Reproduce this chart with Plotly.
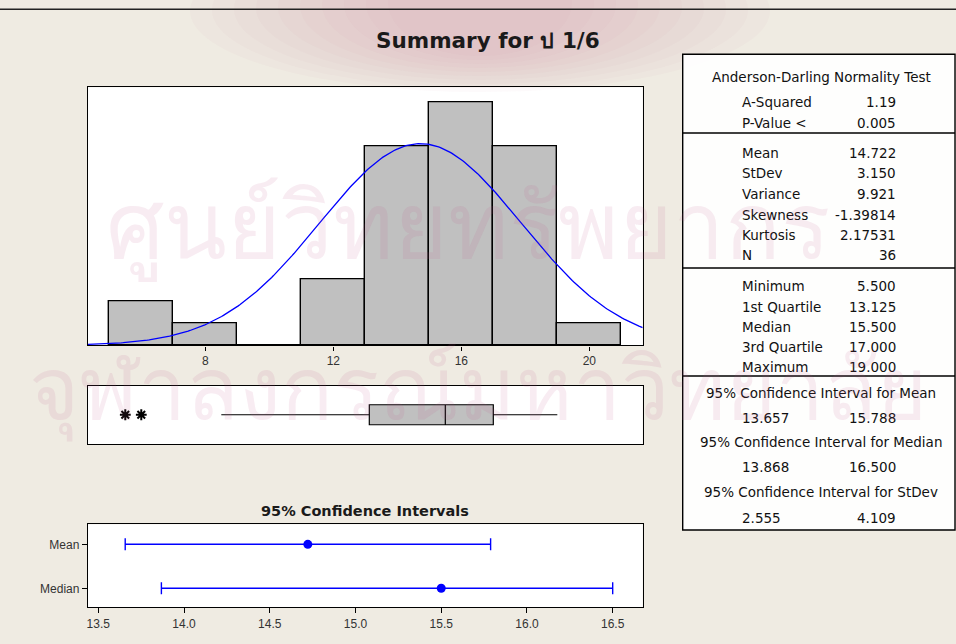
import numpy as np
import plotly.graph_objects as go

W, H = 956, 644

# ---- data -------------------------------------------------------------
bin_edges = [5, 7, 9, 11, 13, 15, 17, 19, 21]
bin_counts = [2, 1, 0, 3, 9, 11, 9, 1]

stat_mean = 14.722
stat_stdev = 3.150
stat_n = 36

box_q1, box_median, box_q3 = 13.125, 15.500, 17.000
whisker_low, whisker_high = 8.5, 19.0
outliers = [5.5, 6.0]

ci_labels = ["Mean", "Median"]
ci_center = [14.722, 15.500]
ci_low = [13.657, 13.868]
ci_high = [15.788, 16.500]

table_rows = [
    ("A-Squared", "1.19"),
    ("P-Value <", "0.005"),
    ("Mean", "14.722"),
    ("StDev", "3.150"),
    ("Variance", "9.921"),
    ("Skewness", "-1.39814"),
    ("Kurtosis", "2.17531"),
    ("N", "36"),
    ("Minimum", "5.500"),
    ("1st Quartile", "13.125"),
    ("Median", "15.500"),
    ("3rd Quartile", "17.000"),
    ("Maximum", "19.000"),
]
ci_table = [
    ("95% Confidence Interval for Mean", "13.657", "15.788"),
    ("95% Confidence Interval for Median", "13.868", "16.500"),
    ("95% Confidence Interval for StDev", "2.555", "4.109"),
]


def px(x):
    return x / W


def py(y):
    return 1 - y / H


BG = "#EFEBE2"
GREY = "#C0C0C0"
FONT = "Liberation Sans, Arial, sans-serif"
TFONT = "DejaVu Sans, Verdana, sans-serif"
BOLD = "DejaVu Sans, Verdana, sans-serif"

fig = go.Figure()

# histogram bars
centers = [(a + b) / 2 for a, b in zip(bin_edges[:-1], bin_edges[1:])]
widths = [b - a for a, b in zip(bin_edges[:-1], bin_edges[1:])]
fig.add_trace(go.Bar(
    x=centers, y=bin_counts, width=widths,
    marker=dict(color=GREY, line=dict(color="black", width=1.4)),
    xaxis="x", yaxis="y", showlegend=False, hoverinfo="skip",
))

# fitted normal curve scaled to counts
xs = np.linspace(4.335, 21.668, 300)
bw = bin_edges[1] - bin_edges[0]
ys = stat_n * bw / (stat_stdev * np.sqrt(2 * np.pi)) * np.exp(-0.5 * ((xs - stat_mean) / stat_stdev) ** 2)
fig.add_trace(go.Scatter(
    x=xs, y=ys, mode="lines", line=dict(color="#0000FF", width=1.3),
    xaxis="x", yaxis="y", showlegend=False, hoverinfo="skip",
))

# boxplot
fig.add_trace(go.Box(
    q1=[box_q1], median=[box_median], q3=[box_q3],
    lowerfence=[whisker_low], upperfence=[whisker_high],
    y=[0], orientation="h", width=0.684, whiskerwidth=0,
    fillcolor=GREY, line=dict(color="black", width=1.2),
    boxpoints=False, xaxis="x2", yaxis="y2", showlegend=False, hoverinfo="skip",
))
fig.add_trace(go.Scatter(
    x=outliers, y=[0] * len(outliers), mode="markers",
    marker=dict(symbol="asterisk-open", size=9, color="black",
                line=dict(color="black", width=2)),
    xaxis="x2", yaxis="y2", showlegend=False, hoverinfo="skip",
))

# confidence intervals
ci_y = [1, 0]
fig.add_trace(go.Scatter(
    x=ci_center, y=ci_y, mode="markers",
    marker=dict(color="#0000FF", size=9),
    error_x=dict(
        type="data", symmetric=False,
        array=[h - c for h, c in zip(ci_high, ci_center)],
        arrayminus=[c - l for c, l in zip(ci_center, ci_low)],
        color="#0000FF", thickness=1.4, width=6,
    ),
    xaxis="x3", yaxis="y3", showlegend=False, hoverinfo="skip",
))

frame = dict(showline=True, mirror=True, linecolor="black", linewidth=1.4,
             showgrid=False, zeroline=False)
xdom = [px(88), px(642.7)]
hist_range = [4.335, 21.668]

fig.update_layout(
    width=W, height=H,
    margin=dict(l=0, r=0, t=0, b=0),
    paper_bgcolor=BG, plot_bgcolor="white",
    bargap=0,
    xaxis=dict(domain=xdom, range=hist_range, tickvals=[8, 12, 16, 20],
               ticks="outside", ticklen=4, tickcolor="black",
               tickfont=dict(family=FONT, size=12, color="#333333"), **frame),
    yaxis=dict(domain=[py(345.3), py(87.3)], range=[0, 11.67],
               showticklabels=False, ticks="", **frame),
    xaxis2=dict(domain=xdom, range=hist_range, showticklabels=False, ticks="",
                anchor="y2", **frame),
    yaxis2=dict(domain=[py(444), py(385.5)], range=[-1, 1],
                showticklabels=False, ticks="", anchor="x2", **frame),
    xaxis3=dict(domain=xdom, range=[13.44, 16.675],
                tickvals=[13.5, 14.0, 14.5, 15.0, 15.5, 16.0, 16.5],
                ticktext=["13.5", "14.0", "14.5", "15.0", "15.5", "16.0", "16.5"],
                ticks="outside", ticklen=5, tickcolor="black",
                tickfont=dict(family=FONT, size=12, color="#333333"),
                anchor="y3", **frame),
    yaxis3=dict(domain=[py(607), py(524.3)], range=[-0.425, 1.455],
                tickvals=ci_y, ticktext=ci_labels,
                ticks="outside", ticklen=5, tickcolor="black",
                tickfont=dict(family=FONT, size=12, color="#333333"),
                anchor="x3", **frame),
)

shapes = []
# soft pink emblem glow behind the title, built from stacked faint ellipses
for k in range(10):
    shrink = k * 22
    shapes.append(dict(type="circle", xref="paper", yref="paper", layer="below",
                       x0=px(190 + shrink), x1=px(770 - shrink),
                       y0=py(92 - k * 4), y1=py(-70 + k * 2),
                       fillcolor="rgba(214,150,165,0.045)", line=dict(width=0)))
# top rule
shapes.append(dict(type="line", xref="paper", yref="paper",
                   x0=0, x1=1, y0=py(9.3), y1=py(9.3),
                   line=dict(color="#222222", width=1.4)))
# statistics table
tx0, tx1, ty0, ty1 = 682.7, 955, 54.3, 530
shapes.append(dict(type="rect", xref="paper", yref="paper",
                   x0=px(tx0), x1=px(tx1), y0=py(ty1), y1=py(ty0),
                   fillcolor="rgba(255,255,255,0.92)", line=dict(color="black", width=1.4)))
for yy in [133, 268, 376]:
    shapes.append(dict(type="line", xref="paper", yref="paper",
                       x0=px(tx0), x1=px(tx1), y0=py(yy), y1=py(yy),
                       line=dict(color="black", width=1.4)))
fig.update_layout(shapes=shapes)

ann = []
ann.append(dict(text="<b>Summary for ป 1/6</b>", x=px(488), y=py(40), xref="paper", yref="paper",
                showarrow=False, font=dict(family=BOLD, size=21.5, color="#1a1a1a"),
                xanchor="center", yanchor="middle"))
ann.append(dict(text="<b>95% Confidence Intervals</b>", x=px(365), y=py(511), xref="paper",
                yref="paper", showarrow=False, font=dict(family=BOLD, size=14.5, color="#1a1a1a"),
                xanchor="center", yanchor="middle"))

tfont = dict(family=TFONT, size=13.5, color="#111111")
ann.append(dict(text="Anderson-Darling Normality Test", x=px(821), y=py(77), xref="paper",
                yref="paper", showarrow=False, font=tfont, xanchor="center", yanchor="middle"))
row_y = [102, 123, 153, 173, 194, 215, 235, 255, 286, 307, 327, 347, 367]
for (lab, val), yy in zip(table_rows, row_y):
    ann.append(dict(text=lab, x=px(740), y=py(yy), xref="paper", yref="paper",
                    showarrow=False, font=tfont, xanchor="left", yanchor="middle"))
    ann.append(dict(text=val, x=px(898), y=py(yy), xref="paper", yref="paper",
                    showarrow=False, font=tfont, xanchor="right", yanchor="middle"))
for (lab, lo, hi), yh, yv in zip(ci_table, [393, 442, 492], [418, 467, 518]):
    ann.append(dict(text=lab, x=px(821), y=py(yh), xref="paper", yref="paper",
                    showarrow=False, font=tfont, xanchor="center", yanchor="middle"))
    ann.append(dict(text=lo, x=px(740), y=py(yv), xref="paper", yref="paper",
                    showarrow=False, font=tfont, xanchor="left", yanchor="middle"))
    ann.append(dict(text=hi, x=px(898), y=py(yv), xref="paper", yref="paper",
                    showarrow=False, font=tfont, xanchor="right", yanchor="middle"))

# translucent institutional watermark
wm = "rgba(190,80,135,0.11)"
ann.append(dict(text="ศูนย์วิทยทรัพยากร", x=px(468), y=py(222), xref="paper", yref="paper",
                showarrow=False, font=dict(family="Noto Sans, sans-serif", size=92, color=wm),
                xanchor="center", yanchor="middle"))
ann.append(dict(text="จุฬาลงกรณ์มหาวิทยาลัย", x=px(478), y=py(385), xref="paper", yref="paper",
                showarrow=False, font=dict(family="Noto Sans, sans-serif", size=86, color=wm),
                xanchor="center", yanchor="middle"))
fig.update_layout(annotations=ann)

fig.write_html("out.html")
